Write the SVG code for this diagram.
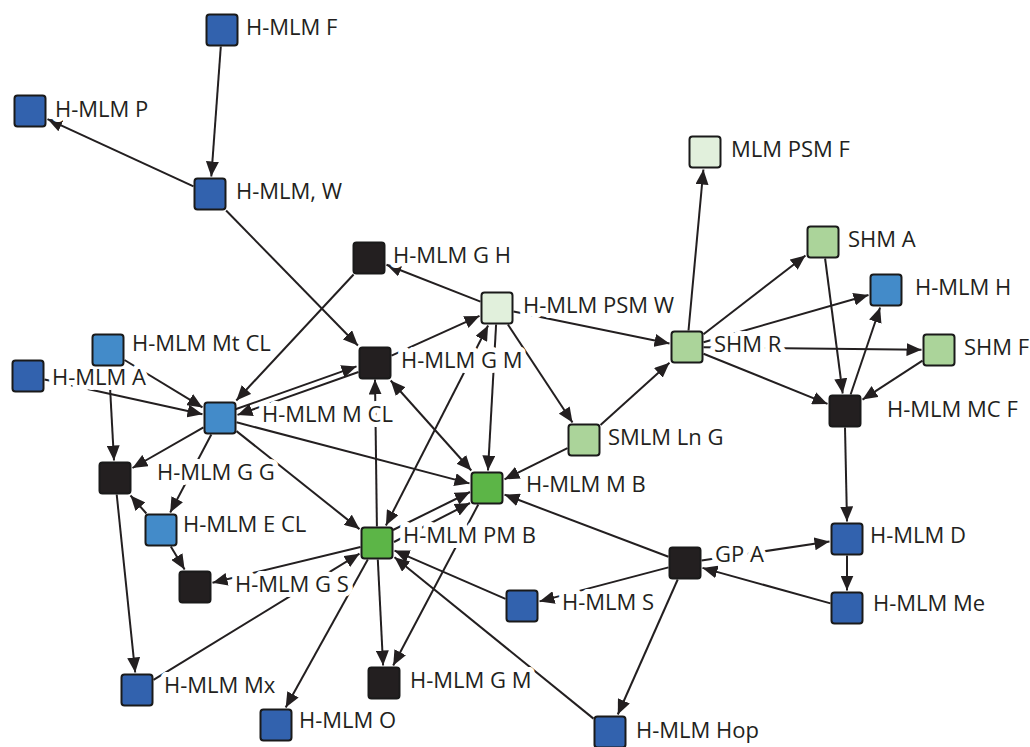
<svg xmlns="http://www.w3.org/2000/svg" width="1030" height="747" viewBox="0 0 1030 747">
<style>
.e{stroke:#231f20;stroke-width:2;fill:none;marker-end:url(#ah)}
.b{marker-start:url(#ah)}
.n{stroke:#1a1a1a;stroke-width:2}
.t{font-family:"Open Sans","Noto Sans",sans-serif;font-size:22px;fill:#231f20;stroke:#fff;stroke-width:10;stroke-linejoin:round;paint-order:stroke}
.db{fill:#3262ae}.mb{fill:#438bc9}.bk{fill:#231f20}.gr{fill:#5cb547}.lg{fill:#abd49a}.pg{fill:#e1f0dc}
</style>
<defs>
<marker id="ah" markerWidth="15" markerHeight="13" refX="15" refY="6.5" orient="auto-start-reverse" markerUnits="userSpaceOnUse"><path d="M0,0 L15,6.5 L0,13 z" fill="#231f20"/></marker>
</defs>
<rect width="1030" height="747" fill="#fff"/>
<g id="connectors">
<line class="e" x1="220.8" y1="46.5" x2="211.3" y2="176.5"/>
<line class="e" x1="193.5" y1="186.4" x2="47.5" y2="119.1"/>
<line class="e" x1="226.1" y1="210.5" x2="357.9" y2="345.5"/>
<line class="e" x1="353.6" y1="274.5" x2="236.3" y2="400.5"/>
<line class="e" x1="480.5" y1="301.6" x2="386.5" y2="264.8"/>
<line class="e" x1="391.5" y1="355.6" x2="479.5" y2="315.9"/>
<line class="e b" x1="488.1" y1="325.5" x2="385.9" y2="525.5"/>
<line class="e b" x1="390.7" y1="380.5" x2="471.3" y2="470.5"/>
<line class="e" x1="496.1" y1="324.5" x2="488" y2="470.5"/>
<line class="e" x1="507.9" y1="324.5" x2="572.5" y2="422.5"/>
<line class="e" x1="513.5" y1="311.4" x2="669.5" y2="343.4"/>
<line class="e" x1="600.5" y1="425.1" x2="669.5" y2="362.8"/>
<line class="e" x1="567.5" y1="448.2" x2="504.5" y2="479.3"/>
<line class="e" x1="688.5" y1="330.5" x2="703.4" y2="169.5"/>
<line class="e" x1="703.5" y1="334.3" x2="805.5" y2="255.5"/>
<line class="e" x1="703.5" y1="342.3" x2="868.5" y2="295"/>
<line class="e" x1="703.5" y1="347.2" x2="921.5" y2="349.8"/>
<line class="e" x1="703.5" y1="353.7" x2="827.5" y2="403.9"/>
<line class="e" x1="825.1" y1="258.5" x2="842.7" y2="393.5"/>
<line class="e" x1="850.6" y1="394.5" x2="880.1" y2="307.5"/>
<line class="e" x1="922.5" y1="360.7" x2="862.5" y2="399.6"/>
<line class="e" x1="845" y1="427.5" x2="847" y2="521.5"/>
<line class="e" x1="847" y1="555.5" x2="847" y2="590.5"/>
<line class="e" x1="701.5" y1="560.6" x2="829.5" y2="541.6"/>
<line class="e" x1="830.5" y1="603.4" x2="702.5" y2="567.9"/>
<line class="e" x1="668.5" y1="556.8" x2="504.5" y2="494.6"/>
<line class="e" x1="668.5" y1="567.4" x2="539.5" y2="601.4"/>
<line class="e" x1="677.7" y1="579.5" x2="617.8" y2="714.5"/>
<line class="e" x1="505.5" y1="598.8" x2="394.5" y2="550.6"/>
<line class="e" x1="593.5" y1="718.6" x2="394.5" y2="557.2"/>
<line class="e" x1="377.8" y1="559.5" x2="383.1" y2="665.5"/>
<line class="e" x1="478.3" y1="504.5" x2="393.2" y2="665.5"/>
<line class="e" x1="367.8" y1="559.5" x2="285.7" y2="707.5"/>
<line class="e" x1="153.5" y1="679.9" x2="359.5" y2="553.7"/>
<line class="e" x1="360.5" y1="547" x2="212.5" y2="582.8"/>
<line class="e" x1="393" y1="530" x2="470" y2="492"/>
<line class="e" x1="394" y1="542" x2="470" y2="503"/>
<line class="e" x1="235.5" y1="409.3" x2="356.5" y2="366.4"/>
<line class="e" x1="358.5" y1="372" x2="237.5" y2="414.9"/>
<line class="e" x1="376.9" y1="526.5" x2="375" y2="379.5"/>
<line class="e" x1="44.5" y1="379.6" x2="202.5" y2="414.2"/>
<line class="e" x1="108.9" y1="366.5" x2="114" y2="460.5"/>
<line class="e" x1="124.5" y1="360" x2="202.5" y2="407.4"/>
<line class="e" x1="203.5" y1="427.4" x2="132.5" y2="468"/>
<line class="e" x1="211.3" y1="434.5" x2="170.2" y2="512.5"/>
<line class="e" x1="146.4" y1="513.5" x2="130.5" y2="495.5"/>
<line class="e" x1="170.8" y1="546.5" x2="184.6" y2="569.5"/>
<line class="e" x1="116.7" y1="494.5" x2="135.2" y2="672.5"/>
<line class="e" x1="236.5" y1="431.1" x2="359.5" y2="529.1"/>
<line class="e" x1="236.5" y1="422.3" x2="469.5" y2="483.4"/>
</g>
<g id="n-F"><text class="t" x="246" y="35">H-MLM F</text><rect class="n db" x="206.5" y="14.5" width="31" height="31" rx="3"/></g>
<g id="n-P"><text class="t" x="55" y="117">H-MLM P</text><rect class="n db" x="14.5" y="95.5" width="31" height="31" rx="3"/></g>
<g id="n-W"><text class="t" x="236" y="199">H-MLM, W</text><rect class="n db" x="194.5" y="178.5" width="31" height="31" rx="3"/></g>
<g id="n-GH"><text class="t" x="393" y="263">H-MLM G H</text><rect class="n bk" x="353.5" y="242.5" width="31" height="31" rx="3"/></g>
<g id="n-PSMW"><text class="t" x="523" y="313">H-MLM PSM W</text><rect class="n pg" x="481.5" y="292.5" width="31" height="31" rx="3"/></g>
<g id="n-PSMF"><text class="t" x="731" y="157">MLM PSM F</text><rect class="n pg" x="689.5" y="136.5" width="31" height="31" rx="3"/></g>
<g id="n-SHMA"><text class="t" x="848" y="247">SHM A</text><rect class="n lg" x="807.5" y="226.5" width="31" height="31" rx="3"/></g>
<g id="n-H"><text class="t" x="915" y="295">H-MLM H</text><rect class="n mb" x="870.5" y="274.5" width="31" height="31" rx="3"/></g>
<g id="n-SHMR"><text class="t" x="714" y="352">SHM R</text><rect class="n lg" x="671.5" y="331.5" width="31" height="31" rx="3"/></g>
<g id="n-SHMF"><text class="t" x="964" y="355">SHM F</text><rect class="n lg" x="923.5" y="334.5" width="31" height="31" rx="3"/></g>
<g id="n-MCF"><text class="t" x="887" y="417">H-MLM MC F</text><rect class="n bk" x="829.5" y="395.5" width="31" height="31" rx="3"/></g>
<g id="n-A"><text class="t" x="52" y="385">H-MLM A</text><rect class="n db" x="12.5" y="360.5" width="31" height="31" rx="3"/></g>
<g id="n-MtCL"><text class="t" x="132" y="351">H-MLM Mt CL</text><rect class="n mb" x="92.5" y="334.5" width="31" height="31" rx="3"/></g>
<g id="n-GMt"><text class="t" x="401" y="368">H-MLM G M</text><rect class="n bk" x="359.5" y="347.5" width="31" height="31" rx="3"/></g>
<g id="n-MCL"><text class="t" x="262" y="422">H-MLM M CL</text><rect class="n mb" x="204.5" y="402.5" width="31" height="31" rx="3"/></g>
<g id="n-SMLM"><text class="t" x="608" y="445">SMLM Ln G</text><rect class="n lg" x="568.5" y="424.5" width="31" height="31" rx="3"/></g>
<g id="n-GG"><text class="t" x="157" y="480">H-MLM G G</text><rect class="n bk" x="99.5" y="462.5" width="31" height="31" rx="3"/></g>
<g id="n-MB"><text class="t" x="526" y="492">H-MLM M B</text><rect class="n gr" x="471.5" y="472.5" width="31" height="31" rx="3"/></g>
<g id="n-ECL"><text class="t" x="183" y="532">H-MLM E CL</text><rect class="n mb" x="145.5" y="514.5" width="31" height="31" rx="3"/></g>
<g id="n-PMB"><text class="t" x="403" y="543">H-MLM PM B</text><rect class="n gr" x="361.5" y="527.5" width="31" height="31" rx="3"/></g>
<g id="n-D"><text class="t" x="870" y="543">H-MLM D</text><rect class="n db" x="831.5" y="523.5" width="31" height="31" rx="3"/></g>
<g id="n-GPA"><text class="t" x="715" y="562">GP A</text><rect class="n bk" x="669.5" y="547.5" width="31" height="31" rx="3"/></g>
<g id="n-GS"><text class="t" x="235" y="592">H-MLM G S</text><rect class="n bk" x="179.5" y="571.5" width="31" height="31" rx="3"/></g>
<g id="n-S"><text class="t" x="562" y="610">H-MLM S</text><rect class="n db" x="506.5" y="590.5" width="31" height="31" rx="3"/></g>
<g id="n-Me"><text class="t" x="873" y="611">H-MLM Me</text><rect class="n db" x="831.5" y="592.5" width="31" height="31" rx="3"/></g>
<g id="n-Mx"><text class="t" x="164" y="693">H-MLM Mx</text><rect class="n db" x="121.5" y="674.5" width="31" height="31" rx="3"/></g>
<g id="n-GMb"><text class="t" x="410" y="688">H-MLM G M</text><rect class="n bk" x="368.5" y="667.5" width="31" height="31" rx="3"/></g>
<g id="n-O"><text class="t" x="299" y="728">H-MLM O</text><rect class="n db" x="260.5" y="709.5" width="31" height="31" rx="3"/></g>
<g id="n-Hop"><text class="t" x="636" y="738">H-MLM Hop</text><rect class="n db" x="594.5" y="716.5" width="31" height="31" rx="3"/></g>
</svg>
